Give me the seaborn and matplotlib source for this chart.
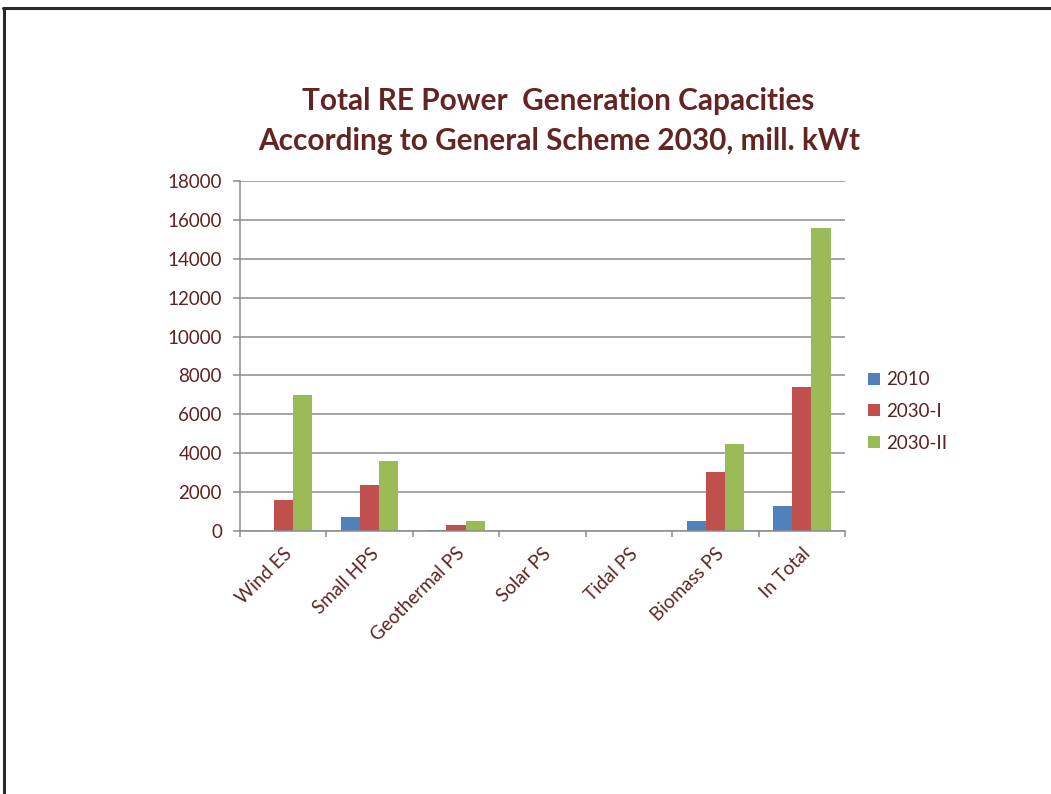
import matplotlib
matplotlib.use("Agg")
import matplotlib.pyplot as plt
import seaborn as sns
import pandas as pd
from matplotlib.lines import Line2D
from matplotlib.patches import Patch

categories = ["Wind ES", "Small HPS", "Geothermal PS", "Solar PS", "Tidal PS", "Biomass PS", "In Total"]
series = ["2010", "2030-I", "2030-II"]
v2010 = [0, 700, 50, 0, 0, 500, 1300]
v2030_1 = [1600, 2350, 300, 0, 0, 3050, 7400]
v2030_2 = [7000, 3600, 500, 0, 0, 4450, 15600]
colors = ["#4F81BD", "#C0504D", "#9BBB59"]
title_lines = ["Total RE Power  Generation Capacities",
               "According to General Scheme 2030, mill. kWt"]
yticks = list(range(0, 18001, 2000))

rows = []
for s, vals in zip(series, [v2010, v2030_1, v2030_2]):
    for c, v in zip(categories, vals):
        rows.append({"category": c, "series": s, "value": v})
df = pd.DataFrame(rows)

sns.set_theme(style="white")
plt.rcParams["font.family"] = ["Lato", "DejaVu Sans"]
text_color = "#5E2222"
grid_color = "#8C8C8C"
fs = 13.5

fig = plt.figure(figsize=(10.51, 7.94), dpi=100)
ax = fig.add_axes([240/1051, 1-531/794, (845-240)/1051, (531-181)/794])

sns.barplot(data=df, x="category", y="value", hue="series", order=categories,
            hue_order=series, palette=colors, width=0.667, gap=0,
            saturation=1, linewidth=0, ax=ax, legend=False)

ax.set_ylim(0, 18000)
ax.set_xlim(-0.5, len(categories) - 0.5)
ax.set_yticks(yticks)
ax.set_yticklabels([str(t) for t in yticks])
ax.set_axisbelow(True)
ax.yaxis.grid(True, color=grid_color, linewidth=1.1)
ax.xaxis.grid(False)
ax.set_xlabel("")
ax.set_ylabel("")

for sp in ["top", "right"]:
    ax.spines[sp].set_visible(False)
for sp in ["left", "bottom"]:
    ax.spines[sp].set_color(grid_color)
    ax.spines[sp].set_linewidth(1.1)

ax.tick_params(axis="y", which="major", left=True, length=5, width=1.1,
               color=grid_color, labelsize=fs, labelcolor=text_color, pad=8)
ax.set_xticks(range(len(categories)))
ax.set_xticklabels(categories, rotation=45, ha="right", rotation_mode="anchor")
ax.tick_params(axis="x", which="major", bottom=False, length=0,
               labelsize=fs, labelcolor=text_color, pad=10)
ax.set_xticks([i - 0.5 for i in range(len(categories) + 1)], minor=True)
ax.tick_params(axis="x", which="minor", bottom=True, length=4.5, width=1.1,
               color=grid_color)

handles = [Patch(facecolor=c, edgecolor="none") for c in colors]
leg = fig.legend(handles, series, loc="upper left",
                 bbox_to_anchor=(859/1051, 1-362/794), frameon=False,
                 fontsize=fs, handlelength=0.6, handleheight=0.6,
                 handletextpad=0.35, labelspacing=0.78, borderpad=0)
for t in leg.get_texts():
    t.set_color(text_color)

fig.text(558/1051, 1-101/794, title_lines[0], ha="center", va="center",
         fontsize=21.4, fontweight="bold", color="#632423")
fig.text(559/1051, 1-141/794, title_lines[1], ha="center", va="center",
         fontsize=21.4, fontweight="bold", color="#632423")

# slide frame
fig.add_artist(Line2D([3/1051, 1], [1-7.5/794, 1-7.5/794], color="#2A2A2A",
                      linewidth=2.2, transform=fig.transFigure))
fig.add_artist(Line2D([4/1051, 4/1051], [0, 1-7.5/794], color="#2A2A2A",
                      linewidth=2.2, transform=fig.transFigure))

fig.savefig("out.png", dpi=100)
